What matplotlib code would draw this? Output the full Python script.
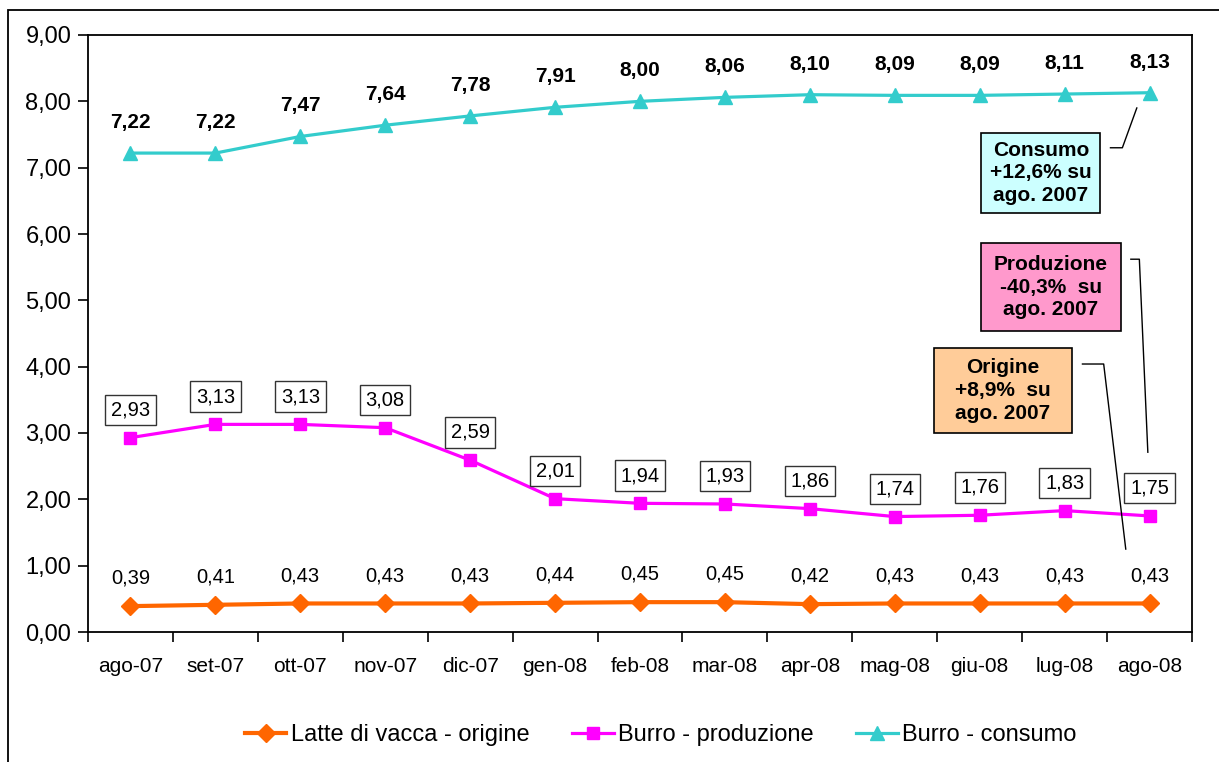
import matplotlib
matplotlib.use('Agg')

import matplotlib.pyplot as plt
from matplotlib.patches import Rectangle
from matplotlib.ticker import FuncFormatter, FixedLocator
import numpy as np

plt.rcParams['font.family'] = ['Liberation Sans', 'DejaVu Sans']

mesi = ['ago-07', 'set-07', 'ott-07', 'nov-07', 'dic-07', 'gen-08', 'feb-08',
        'mar-08', 'apr-08', 'mag-08', 'giu-08', 'lug-08', 'ago-08']
latte_origine = [0.39, 0.41, 0.43, 0.43, 0.43, 0.44, 0.45, 0.45, 0.42, 0.43, 0.43, 0.43, 0.43]
burro_produzione = [2.93, 3.13, 3.13, 3.08, 2.59, 2.01, 1.94, 1.93, 1.86, 1.74, 1.76, 1.83, 1.75]
burro_consumo = [7.22, 7.22, 7.47, 7.64, 7.78, 7.91, 8.00, 8.06, 8.10, 8.09, 8.09, 8.11, 8.13]

C_ORIG = '#FF6600'
C_PROD = '#FF00FF'
C_CONS = '#33CCCC'


def virgola(v, _=None):
    return f'{v:.2f}'.replace('.', ',')


fig = plt.figure(figsize=(12.19, 7.62), dpi=100)
fig.patch.set_facecolor('white')
ax = fig.add_axes([88 / 1219, 1 - 632 / 762, (1192 - 88) / 1219, (632 - 35) / 762])

# cornice esterna del grafico
fig.patches.append(Rectangle((8 / 1219, -0.05), 1.1, 1 - 10 / 762 + 0.05,
                             transform=fig.transFigure, fill=False,
                             edgecolor='black', lw=1.3, clip_on=False))

x = np.arange(len(mesi))
ax.plot(x, latte_origine, color=C_ORIG, lw=3, marker='D', ms=9.5,
        label='Latte di vacca - origine')
ax.plot(x, burro_produzione, color=C_PROD, lw=2.3, marker='s', ms=8.5,
        label='Burro - produzione')
ax.plot(x, burro_consumo, color=C_CONS, lw=2.3, marker='^', ms=9.5,
        label='Burro - consumo')

# etichette dei valori
for xi, v in zip(x, latte_origine):
    ax.annotate(virgola(v), (xi, v), xytext=(0, 20), textcoords='offset points',
                ha='center', va='center', fontsize=14.5)
for xi, v in zip(x, burro_produzione):
    ax.annotate(virgola(v), (xi, v), xytext=(0, 20), textcoords='offset points',
                ha='center', va='center', fontsize=14.5,
                bbox=dict(boxstyle='square,pad=0.28', fc='white', ec='#333333', lw=1))
for xi, v in zip(x, burro_consumo):
    ax.annotate(virgola(v), (xi, v), xytext=(0, 22), textcoords='offset points',
                ha='center', va='center', fontsize=15, fontweight='bold')

# riquadri di commento (x0, x1, y0, y1) con linee di richiamo
note = [
    ('Consumo\n+12,6% su\nago. 2007', '#CCFFFF', (10.02, 11.42, 6.32, 7.52),
     [(11.54, 7.30), (11.68, 7.30), (11.85, 7.90)]),
    ('Produzione\n-40,3%  su\nago. 2007', '#FF99CC', (10.02, 11.66, 4.54, 5.86),
     [(11.78, 5.62), (11.88, 5.62), (11.98, 2.71)]),
    ('Origine\n+8,9%  su\nago. 2007', '#FFCC99', (9.46, 11.09, 3.00, 4.28),
     [(11.21, 4.04), (11.46, 4.04), (11.72, 1.25)]),
]
for testo, colore, (x0, x1, y0, y1), linea in note:
    ax.add_patch(Rectangle((x0, y0), x1 - x0, y1 - y0, fc=colore, ec='black',
                           lw=1.2, zorder=4))
    ax.text((x0 + x1) / 2, (y0 + y1) / 2, testo, ha='center', va='center',
            fontsize=15, fontweight='bold', linespacing=1.25, zorder=5)
    lx, ly = zip(*linea)
    ax.plot(lx, ly, color='black', lw=1)

ax.set_xlim(-0.5, len(mesi) - 0.5)
ax.set_ylim(0, 9)
ax.set_yticks(np.arange(0, 10, 1))
ax.yaxis.set_major_formatter(FuncFormatter(virgola))
ax.set_xticks(x)
ax.set_xticklabels(mesi)
ax.xaxis.set_minor_locator(FixedLocator(np.arange(-0.5, len(mesi), 1)))
ax.tick_params(axis='x', which='major', length=0, labelsize=15, pad=18)
ax.tick_params(axis='x', which='minor', length=7, direction='out', width=1.2)
ax.tick_params(axis='y', length=7, direction='out', width=1.2, labelsize=17, pad=5)
for s in ax.spines.values():
    s.set_linewidth(1.3)

fig.legend(loc='center', bbox_to_anchor=(661 / 1219, 1 - 735 / 762), ncol=3,
           frameon=False, fontsize=17, handlelength=1.75, handletextpad=0.2,
           columnspacing=1.8)

plt.savefig('out.png', dpi=100)
plt.close()
